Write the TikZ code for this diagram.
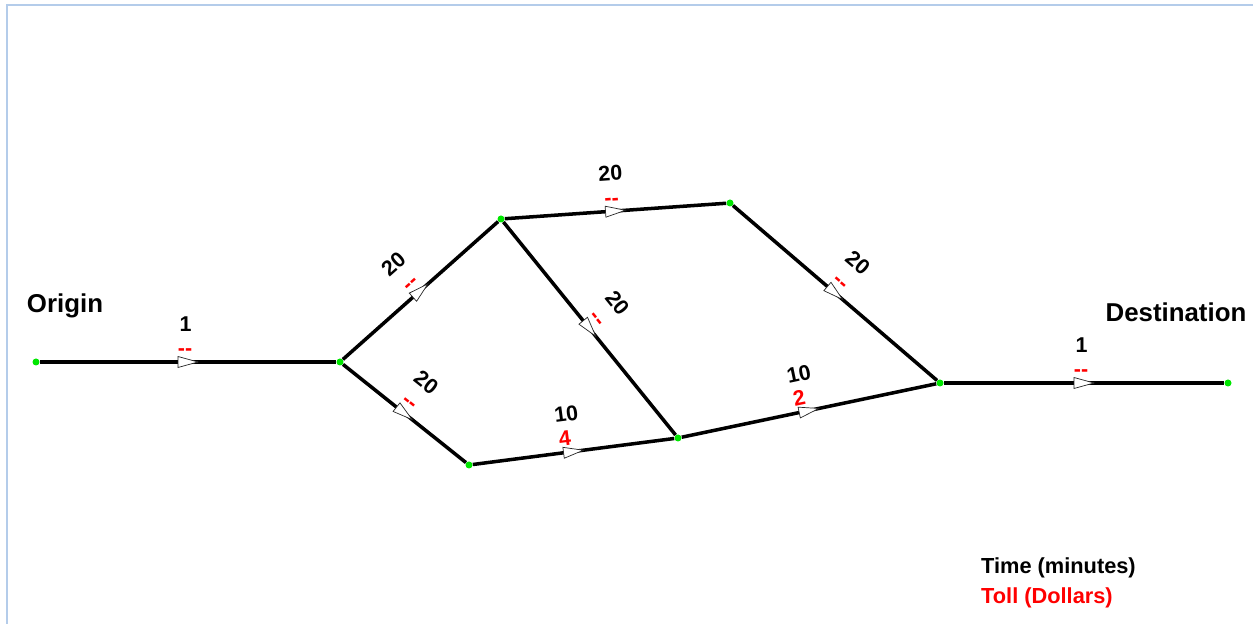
\documentclass[tikz,border=0pt]{standalone}
\usepackage{fontspec}
\setmainfont{Liberation Sans}
\definecolor{tollred}{RGB}{255,0,0}
\definecolor{jgreen}{RGB}{0,230,0}
\definecolor{frameblue}{RGB}{180,204,234}
\usetikzlibrary{decorations.markings}

\begin{document}
\begin{tikzpicture}[x=0.02cm, y=-0.02cm,
  junction/.style={circle, fill=jgreen, inner sep=0pt, minimum size=0.14cm},
  road/.style={line width=2pt, postaction={decorate}, decoration={markings, mark=at position 0.5 with {\draw[line width=0.4pt, draw=black!85, fill=white] (-0.2cm,0.11cm) -- (0.2cm,0) -- (-0.2cm,-0.11cm) -- cycle;}}},
  timelbl/.style={font=\fontsize{12.2}{14}\selectfont\bfseries, inner sep=1pt, sloped, yshift=0.76cm, xshift=-0.05cm},
  tolldash/.style={font=\fontsize{12.2}{14}\selectfont\bfseries, inner sep=1pt, text=tollred, sloped, yshift=0.19cm, xshift=-0.06cm},
  tollnum/.style={font=\fontsize{12.2}{14}\selectfont\bfseries, inner sep=1pt, text=tollred, sloped, yshift=0.28cm, xshift=-0.14cm},
  bigtext/.style={font=\fontsize{14.7}{17}\selectfont\bfseries},
  keytext/.style={font=\fontsize{12.4}{15}\selectfont\bfseries, anchor=west}]
  \useasboundingbox (0,0) rectangle (1259,624);
  \draw[frameblue, line width=1.1pt] (7,624) -- (7,5) -- (1253,5);

  \node[junction] (origin) at (36,362) {};
  \node[junction] (split) at (340,362) {};
  \node[junction] (upleft) at (501,219) {};
  \node[junction] (upright) at (730,203) {};
  \node[junction] (lowleft) at (469,465) {};
  \node[junction] (lowmid) at (678,438) {};
  \node[junction] (merge) at (940,383) {};
  \node[junction] (dest) at (1228,383) {};

  \draw[road] (origin) -- node[timelbl] {1} node[tolldash] {-{}-} (split);
  \draw[road] (split) -- node[timelbl] {20} node[tolldash] {-{}-} (upleft);
  \draw[road] (split) -- node[timelbl] {20} node[tolldash] {-{}-} (lowleft);
  \draw[road] (upleft) -- node[timelbl] {20} node[tolldash] {-{}-} (upright);
  \draw[road] (upleft) -- node[timelbl] {20} node[tolldash] {-{}-} (lowmid);
  \draw[road] (upright) -- node[timelbl] {20} node[tolldash] {-{}-} (merge);
  \draw[road] (lowleft) -- node[timelbl] {10} node[tollnum] {4} (lowmid);
  \draw[road] (lowmid) -- node[timelbl] {10} node[tollnum] {2} (merge);
  \draw[road] (merge) -- node[timelbl] {1} node[tolldash] {-{}-} (dest);

  \node[bigtext] (originlbl) at (65,306) {Origin};
  \node[bigtext] (destlbl) at (1176,312) {Destination};
  \node[keytext] (timekey) at (975,568) {Time (minutes)};
  \node[keytext, text=tollred] (tollkey) at (975,598) {Toll (Dollars)};
\end{tikzpicture}
\end{document}
